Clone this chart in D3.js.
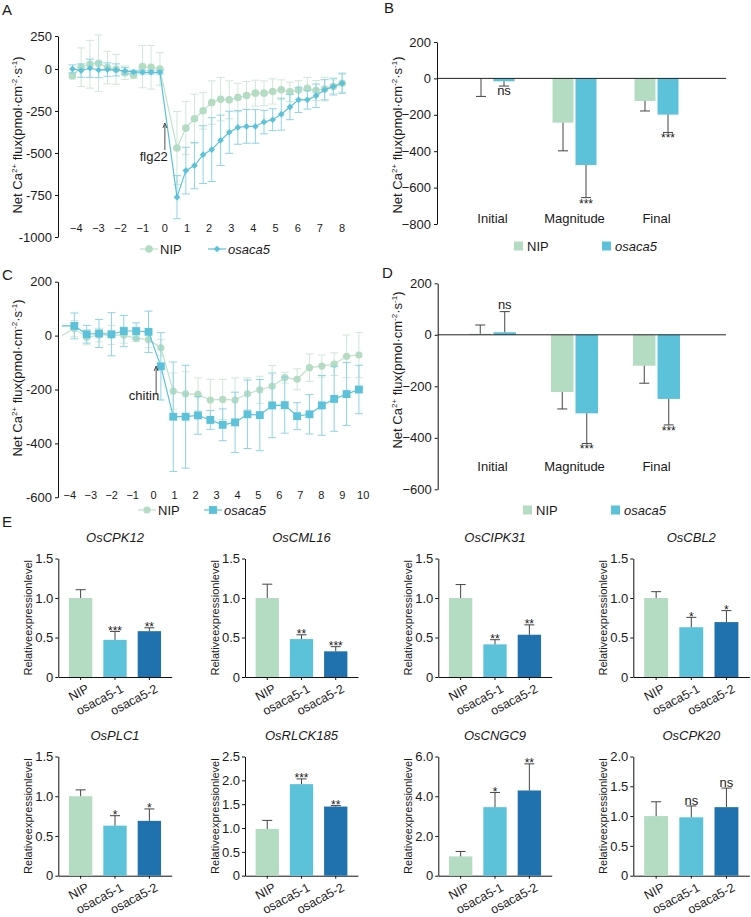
<!DOCTYPE html>
<html>
<head>
<meta charset="utf-8">
<script src="https://cdn.jsdelivr.net/npm/d3@7"></script>
<style>
  body { margin: 0; background: #fff; }
  text { font-family: Arial, "Liberation Sans", sans-serif; fill: #1a1a1a; }
</style>
</head>
<body>
<svg id="fig" width="751" height="917"></svg>
<script>
// ---- data ----
// A: flg22 induced Ca2+ flux (min)
const flgTime = [-4.15, -3.76, -3.36, -2.97, -2.57, -2.18, -1.78, -1.39, -0.99, -0.60, -0.20,
  0.57, 0.97, 1.36, 1.75, 2.14, 2.54, 2.93, 3.32, 3.71, 4.11, 4.50, 4.89, 5.28, 5.67, 6.06,
  6.46, 6.85, 7.24, 7.63, 8.03];
const flgNip = [-40, 10, 28, 34, 8, -2, -22, -36, 14, 10, 0,
  -470, -352, -296, -249, -200, -180, -184, -170, -158, -144, -144, -134, -124, -136, -126,
  -115, -128, -120, -105, -85];
const flgNipSd = [20, 115, 142, 168, 97, 89, 40, 20, 126, 130, 97,
  217, 158, 146, 109, 129, 129, 113, 85, 83, 77, 73, 75, 59, 57, 55, 64, 59, 71, 40, 53];
const flgKo = [0, -10, 4, -6, -4, -6, -12, -18, -20, -20, -20,
  -763, -605, -575, -510, -480, -425, -377, -348, -342, -342, -316, -302, -269, -227, -184,
  -184, -160, -124, -105, -85];
const flgKoSd = [24, 40, 54, 46, 40, 36, 20, 10, 10, 10, 10,
  128, 139, 138, 172, 190, 150, 125, 100, 100, 100, 70, 65, 95, 75, 75, 55, 70, 60, 50, 60];

// C: chitin induced Ca2+ flux (min)
const chitinTime = [-4.35, -3.76, -3.17, -2.58, -1.99, -1.40, -0.81, -0.22, 0.37, 0.96, 1.55,
  2.14, 2.73, 3.32, 3.91, 4.50, 5.09, 5.68, 6.28, 6.87, 7.46, 8.05, 8.64, 9.23, 9.82];
const chitinNip = [0, 26, -6, 2, 2, 2, -10, -15, -45, -206, -216, -218, -239, -237, -239,
  -216, -201, -188, -156, -162, -119, -113, -106, -77, -72];
const chitinNipSd = [0, 30, 28, 25, 35, 30, 12, 30, 30, 67, 82, 61, 77, 74, 82, 59, 50, 77,
  20, 39, 51, 41, 42, 79, 84];
const chitinKo = [36, 36, 5, 8, 5, 17, 17, 14, -114, -301, -301, -296, -313, -331, -322,
  -292, -295, -259, -258, -299, -292, -259, -235, -217, -200];
const chitinKoSd = [0, 48, 33, 52, 80, 58, 30, 77, 125, 203, 191, 70, 35, 59, 112, 127, 132,
  120, 104, 50, 73, 111, 120, 117, 90];

// B and D: flux phases
const phases = ["Initial", "Magnitude", "Final"];
const flgBarNip = [-1, -243, -124];
const flgBarNipErr = [98, 155, 55];
const flgBarKo = [-16, -476, -199];
const flgBarKoErr = [26, 179, 98];
const flgBarSig = ["ns", "***", "***"];
const chitinBarNip = [4, -222, -120];
const chitinBarNipErr = [34, 66, 68];
const chitinBarKo = [10, -305, -249];
const chitinBarKoErr = [80, 117, 101];
const chitinBarSig = ["ns", "***", "***"];

// E: relative expression
const genes = ["OsCPK12", "OsCML16", "OsCIPK31", "OsCBL2", "OsPLC1", "OsRLCK185", "OsCNGC9", "OsCPK20"];
const lines = ["NIP", "osaca5-1", "osaca5-2"];
const exprMean = [[1, 0.47, 0.58], [1, 0.48, 0.325], [1, 0.413, 0.535], [1, 0.63, 0.695],
  [1, 0.63, 0.69], [0.98, 1.92, 1.45], [0.97, 3.45, 4.29], [1, 0.98, 1.15]];
const exprErr = [[0.105, 0.107, 0.043], [0.175, 0.054, 0.059], [0.17, 0.059, 0.125],
  [0.08, 0.125, 0.145], [0.08, 0.125, 0.15], [0.18, 0.11, 0.02], [0.25, 0.74, 1.34],
  [0.24, 0.19, 0.32]];
const exprSig = [["", "***", "**"], ["", "**", "***"], ["", "**", "**"], ["", "*", "*"],
  ["", "*", "*"], ["", "***", "**"], ["", "*", "**"], ["", "ns", "ns"]];
const exprTicks = [[0, 0.5, 1, 1.5], [0, 0.5, 1, 1.5], [0, 0.5, 1, 1.5], [0, 0.5, 1, 1.5],
  [0, 0.5, 1, 1.5], [0, 0.5, 1, 1.5, 2, 2.5], [0, 2, 4, 6], [0, 0.5, 1, 1.5, 2]];

// ---- colours ----
const nipCol = "#b3dcc3";
const koCol = "#5bc2d9";
const ko2Col = "#1f72ad";
const barCols = [nipCol, koCol, ko2Col];
const errCol = "#444";

const svg = d3.select("#fig");

function label(t, x, y) {
  svg.append("text").attr("x", x).attr("y", y).attr("font-size", 15).text(t);
}

// rotated y title with superscripts
function fluxLabel(x, y) {
  const t = svg.append("text")
    .attr("transform", `translate(${x},${y}) rotate(-90)`)
    .attr("text-anchor", "middle")
    .attr("font-size", 13);
  const parts = [["Net Ca", 0], ["2+", 1], [" flux(pmol·cm", 0], ["-2", 1], ["·s", 0], ["-1", 1], [")", 0]];
  let prevSup = 0;
  parts.forEach(([s, sup]) => {
    t.append("tspan")
      .attr("font-size", sup ? 8 : 13)
      .attr("dy", sup ? -5 : (prevSup ? 5 : 0))
      .text(s);
    prevSup = sup;
  });
}

function styleAxis(g, size) {
  g.selectAll("text").attr("font-size", size).attr("fill", "#1a1a1a");
  g.selectAll("path, line").attr("stroke", "#111");
}

// ---- kinetic panels (A, C) ----
function kinetics(o) {
  const x = d3.scaleLinear().domain(o.xDom).range(o.xRange);
  const y = d3.scaleLinear().domain(o.yDom).range(o.yRange);
  const g = svg.append("g");

  g.append("g")
    .attr("transform", `translate(${o.axisX},0)`)
    .call(d3.axisLeft(y).tickValues(o.yTicks).tickSize(3).tickSizeOuter(0).tickPadding(3)
      .tickFormat(o.yFormat || (d => d)))
    .call(a => styleAxis(a, 13));

  const xa = g.append("g")
    .attr("transform", `translate(0,${o.xLabelY})`)
    .call(d3.axisBottom(x).tickValues(d3.range(o.xDom[0], o.xDom[1] + 1)).tickSize(0).tickPadding(0))
    .call(a => styleAxis(a, 11));
  xa.select(".domain").remove();

  const series = [
    { v: o.nip, sd: o.nipSd, line: "#bfe2cb", err: "#cfe8d7", fill: nipCol, shape: "circle" },
    { v: o.ko, sd: o.koSd, line: koCol, err: "#8ed3e4", fill: koCol, shape: o.koShape }
  ];

  series.forEach(s => {
    const pts = o.time.map((t, i) => ({ t, v: s.v[i], sd: s.sd[i] }));
    const shown = pts.filter(d => d.t >= o.xDom[0] - 0.2);

    const eb = g.append("g").attr("stroke", s.err).attr("stroke-width", 1);
    shown.forEach(d => {
      const cx = x(d.t);
      eb.append("line").attr("x1", cx).attr("x2", cx).attr("y1", y(d.v - d.sd)).attr("y2", y(d.v + d.sd));
      [d.v - d.sd, d.v + d.sd].forEach(e =>
        eb.append("line").attr("x1", cx - 4).attr("x2", cx + 4).attr("y1", y(e)).attr("y2", y(e)));
    });

    g.append("path")
      .datum(pts)
      .attr("fill", "none")
      .attr("stroke", s.line)
      .attr("stroke-width", 1.2)
      .attr("d", d3.line().x(d => x(d.t)).y(d => y(d.v)));

    const m = g.append("g").attr("fill", s.fill);
    if (s.shape === "circle") {
      m.selectAll("circle").data(shown).join("circle")
        .attr("cx", d => x(d.t)).attr("cy", d => y(d.v)).attr("r", o.circleR);
    } else {
      m.selectAll("path").data(shown).join("path")
        .attr("d", d3.symbol(d3.symbolSquare, s.shape === "diamond" ? 22 : 62)())
        .attr("transform", d => `translate(${x(d.t)},${y(d.v)}) rotate(${s.shape === "diamond" ? 45 : 0})`);
    }
  });

  // stimulus arrow
  const ax = x(0) + o.arrowDx;
  g.append("line").attr("x1", ax).attr("x2", ax).attr("y1", o.arrow[0]).attr("y2", o.arrow[1] + 2)
    .attr("stroke", "#222").attr("stroke-width", 0.8);
  g.append("path").attr("d", `M${ax - 2},${o.arrow[1] + 5}L${ax},${o.arrow[1]}L${ax + 2},${o.arrow[1] + 5}`)
    .attr("fill", "none").attr("stroke", "#222").attr("stroke-width", 0.8);
  g.append("text").attr("x", ax + 3).attr("y", o.stimY).attr("text-anchor", "end")
    .attr("font-size", 13).text(o.stim);

  // legend
  const lg = g.append("g");
  const items = [
    { x: o.legX[0], name: "NIP", col: nipCol, line: "#bfe2cb", shape: "circle", it: false },
    { x: o.legX[1], name: "osaca5", col: koCol, line: koCol, shape: o.koShape, it: true }
  ];
  items.forEach(d => {
    lg.append("line").attr("x1", d.x - 9).attr("x2", d.x + 9).attr("y1", o.legY).attr("y2", o.legY)
      .attr("stroke", d.line).attr("stroke-width", 1.2);
    if (d.shape === "circle") {
      lg.append("circle").attr("cx", d.x).attr("cy", o.legY).attr("r", o.circleR).attr("fill", d.col);
    } else {
      lg.append("path").attr("d", d3.symbol(d3.symbolSquare, d.shape === "diamond" ? 22 : 62)())
        .attr("transform", `translate(${d.x},${o.legY}) rotate(${d.shape === "diamond" ? 45 : 0})`)
        .attr("fill", d.col);
    }
    lg.append("text").attr("x", d.x + 11).attr("y", o.legY + 4.5).attr("font-size", 13)
      .attr("font-style", d.it ? "italic" : "normal").text(d.name);
  });
}

// ---- phase bar panels (B, D) ----
function phaseBars(o) {
  const x = d3.scalePoint().domain(phases).range([492.5, 656.5]);
  const y = d3.scaleLinear().domain(o.yDom).range(o.yRange);
  const g = svg.append("g");
  const w = o.barW;

  g.append("g")
    .attr("transform", `translate(${o.axisX},0)`)
    .call(d3.axisLeft(y).tickValues(o.yTicks).tickSize(3).tickSizeOuter(0).tickPadding(3))
    .call(a => styleAxis(a, 13));

  const groups = [
    { v: o.nip, err: o.nipErr, col: nipCol, dx: -w - 1 },
    { v: o.ko, err: o.koErr, col: koCol, dx: 1 }
  ];
  groups.forEach((s, si) => {
    phases.forEach((p, i) => {
      const v = s.v[i];
      const x0 = x(p) + s.dx;
      const cx = x0 + w / 2;
      g.append("rect").attr("x", x0).attr("width", w)
        .attr("y", y(Math.max(0, v))).attr("height", Math.abs(y(v) - y(0)))
        .attr("fill", s.col);
      const e = v + Math.sign(v) * s.err[i];
      g.append("line").attr("x1", cx).attr("x2", cx).attr("y1", y(v)).attr("y2", y(e))
        .attr("stroke", errCol);
      g.append("line").attr("x1", cx - 5).attr("x2", cx + 5).attr("y1", y(e)).attr("y2", y(e))
        .attr("stroke", errCol);
      if (si === 1) {
        const sig = o.sig[i];
        const ns = sig === "ns";
        const ty = v < 0 ? y(e) + (ns ? 9 : 10) : y(e) - 3;
        g.append("text").attr("x", cx).attr("y", ty).attr("text-anchor", "middle")
          .attr("font-size", ns ? 13 : 12).text(sig);
      }
    });
  });

  g.append("line").attr("x1", o.axisX).attr("x2", 726).attr("y1", y(0)).attr("y2", y(0))
    .attr("stroke", "#222").attr("stroke-width", 1);

  phases.forEach(p => {
    g.append("text").attr("x", x(p)).attr("y", o.catY).attr("text-anchor", "middle")
      .attr("font-size", 13).text(p);
  });

  const items = [
    { x: o.legX[0], name: "NIP", col: nipCol, it: false },
    { x: o.legX[1], name: "osaca5", col: koCol, it: true }
  ];
  items.forEach(d => {
    g.append("rect").attr("x", d.x).attr("y", o.legY - 4.5).attr("width", 9).attr("height", 9)
      .attr("fill", d.col);
    g.append("text").attr("x", d.x + 13).attr("y", o.legY + 4.5).attr("font-size", 13)
      .attr("font-style", d.it ? "italic" : "normal").text(d.name);
  });
}

// ---- expression panels (E) ----
function expr(i, ax, w, top, bottom) {
  const ticks = exprTicks[i];
  const x = d3.scaleBand().domain(lines).range([ax, ax + w]).paddingInner(0.32).paddingOuter(0.31);
  const y = d3.scaleLinear().domain([0, ticks[ticks.length - 1]]).range([bottom, top]);
  const g = svg.append("g");

  g.append("g")
    .attr("transform", `translate(${ax},0)`)
    .call(d3.axisLeft(y).tickValues(ticks).tickSize(3).tickSizeOuter(0).tickPadding(2)
      .tickFormat(d => d === 0 ? "0" : d.toFixed(1)))
    .call(a => styleAxis(a, 13));

  const xa = g.append("g")
    .attr("transform", `translate(0,${bottom})`)
    .call(d3.axisBottom(x).tickSize(3).tickSizeOuter(0).tickPadding(2))
    .call(a => styleAxis(a, 12.5));
  xa.selectAll("text")
    .attr("text-anchor", "end")
    .attr("dy", 0)
    .attr("transform", "translate(7,10) rotate(-28)");

  lines.forEach((l, j) => {
    const v = exprMean[i][j];
    const e = v + exprErr[i][j];
    const cx = x(l) + x.bandwidth() / 2;
    g.append("rect").attr("x", x(l)).attr("width", x.bandwidth())
      .attr("y", y(v)).attr("height", y(0) - y(v)).attr("fill", barCols[j]);
    g.append("line").attr("x1", cx).attr("x2", cx).attr("y1", y(v)).attr("y2", y(e)).attr("stroke", errCol);
    g.append("line").attr("x1", cx - 5).attr("x2", cx + 5).attr("y1", y(e)).attr("y2", y(e)).attr("stroke", errCol);
    const s = exprSig[i][j];
    if (s) {
      g.append("text").attr("x", cx).attr("y", s === "ns" ? y(e) - 1 : y(e) + 3.5)
        .attr("text-anchor", "middle").attr("font-size", s === "ns" ? 13 : 12).text(s);
    }
  });

  g.append("text").attr("x", ax + w / 2).attr("y", top - 17).attr("text-anchor", "middle")
    .attr("font-size", 13).attr("font-style", "italic").text(genes[i]);

  g.append("text")
    .attr("transform", `translate(${ax - 26},${(top + bottom) / 2}) rotate(-90)`)
    .attr("text-anchor", "middle").attr("font-size", 11).text("Relativeexpressionlevel");
}

// ---- layout ----
label("A", 2, 15);
label("B", 384, 13);
label("C", 2, 280);
label("D", 382, 278);
label("E", 2, 527);

kinetics({
  time: flgTime, nip: flgNip, nipSd: flgNipSd, ko: flgKo, koSd: flgKoSd,
  xDom: [-4, 8], xRange: [75.8, 341.5],
  yDom: [-1000, 196], yRange: [237, 36], axisX: 58,
  yTicks: [-1000, -750, -500, -250, 0, 196], yFormat: d => d === 196 ? "250" : d,
  xLabelY: 224, koShape: "diamond", circleR: 3.8,
  arrowDx: 0.5, arrow: [150, 123], stim: "flg22", stimY: 161,
  legX: [149, 217], legY: 249
});
fluxLabel(22, 135);

kinetics({
  time: chitinTime, nip: chitinNip, nipSd: chitinNipSd, ko: chitinKo, koSd: chitinKoSd,
  xDom: [-4, 10], xRange: [69.3, 362.7],
  yDom: [-600, 200], yRange: [497.3, 281.7], axisX: 58,
  yTicks: [-600, -400, -200, 0, 200],
  xLabelY: 491, koShape: "square", circleR: 3.6,
  arrowDx: 3, arrow: [395, 366], stim: "chitin", stimY: 400,
  legX: [147, 213], legY: 510
});
fluxLabel(22, 378);

phaseBars({
  nip: flgBarNip, nipErr: flgBarNipErr, ko: flgBarKo, koErr: flgBarKoErr, sig: flgBarSig,
  yDom: [-800, 200], yRange: [224, 42], yTicks: [-800, -600, -400, -200, 0, 200],
  axisX: 437, barW: 21, catY: 223, legX: [514, 602], legY: 246
});
fluxLabel(402, 135);

phaseBars({
  nip: chitinBarNip, nipErr: chitinBarNipErr, ko: chitinBarKo, koErr: chitinBarKoErr, sig: chitinBarSig,
  yDom: [-600, 200], yRange: [489.3, 283.3], yTicks: [-600, -400, -200, 0, 200],
  axisX: 437.7, barW: 22.5, catY: 471, legX: [523, 611], legY: 510
});
fluxLabel(402, 370);

const colX = [58.3, 245, 438.3, 633.3];
const colW = [113.4, 113, 113.4, 116];
genes.forEach((gname, i) => {
  const row = Math.floor(i / 4), col = i % 4;
  const top = row === 0 ? 558.5 : 756.5;
  const bottom = row === 0 ? 677 : 875.7;
  expr(i, colX[col], colW[col], top, bottom);
});
</script>
</body>
</html>
